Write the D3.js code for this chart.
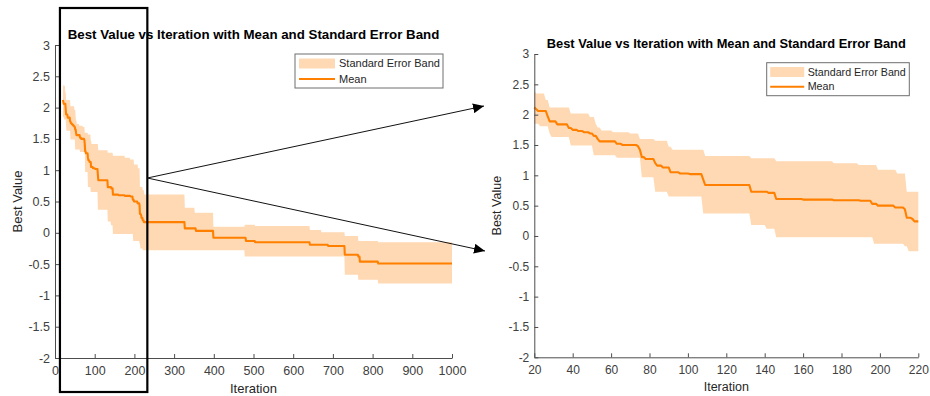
<!DOCTYPE html>
<html>
<head>
<meta charset="utf-8">
<script src="https://cdn.jsdelivr.net/npm/d3@7"></script>
<style>
  html, body { margin: 0; padding: 0; background: #fff; }
  svg { display: block; font-family: "Liberation Sans", Arial, Helvetica, sans-serif; }
</style>
</head>
<body>
<svg id="chart" width="930" height="396"></svg>
<script>
// Step change points of the running best value (iteration where each level starts)
const meanIter = [20, 21, 22, 27, 28, 32, 38, 40, 43, 46, 49, 51, 53, 54, 63, 66, 74, 75, 76, 78, 83, 84, 87, 91, 96, 101, 108, 109, 133, 142, 146, 160, 176, 190, 196, 199, 208, 213, 214, 217, 218, 221, 224, 327, 355, 399, 481, 504, 642, 688, 730, 764, 768, 814];
const meanVal  = [2.12, 2.09, 2.06, 1.97, 1.89, 1.84, 1.78, 1.75, 1.73, 1.71, 1.69, 1.65, 1.60, 1.56, 1.52, 1.50, 1.48, 1.42, 1.30, 1.27, 1.20, 1.16, 1.13, 1.05, 1.03, 1.02, 0.93, 0.84, 0.73, 0.71, 0.61, 0.60, 0.59, 0.58, 0.53, 0.50, 0.47, 0.44, 0.30, 0.28, 0.24, 0.20, 0.17, 0.07, 0.03, -0.08, -0.13, -0.15, -0.19, -0.21, -0.35, -0.38, -0.46, -0.49];

// Upper edge of the standard error band
const upperIter = [20, 21, 26, 28, 39, 49, 52, 53, 55, 61, 70, 75, 83, 90, 92, 109, 133, 146, 176, 189, 199, 209, 214, 221, 225, 327, 352, 399, 478, 504, 642, 671, 730, 764, 814];
const upperVal  = [2.39, 2.35, 2.24, 2.12, 2.02, 1.96, 1.85, 1.79, 1.74, 1.71, 1.69, 1.60, 1.57, 1.47, 1.42, 1.32, 1.28, 1.23, 1.20, 1.17, 1.09, 1.03, 0.73, 0.68, 0.61, 0.40, 0.32, 0.095, 0.13, 0.11, 0.045, 0.01, -0.05, -0.13, -0.15];

// Lower edge of the standard error band
const lowerIter = [20, 23, 28, 29, 39, 51, 63, 76, 83, 90, 108, 133, 141, 146, 197, 213, 215, 221, 478, 730, 764, 814];
const lowerVal  = [1.85, 1.81, 1.69, 1.63, 1.49, 1.33, 1.29, 0.97, 0.73, 0.65, 0.37, 0.18, 0.12, -0.02, -0.13, -0.17, -0.25, -0.28, -0.38, -0.67, -0.75, -0.81];

const iterFirst = 20, iterLast = 1000, zoomLast = 220;

// Axis tick values
const yTicks = [-2, -1.5, -1, -0.5, 0, 0.5, 1, 1.5, 2, 2.5, 3];
const xTicksFull = [0, 100, 200, 300, 400, 500, 600, 700, 800, 900, 1000];
const xTicksZoom = [20, 40, 60, 80, 100, 120, 140, 160, 180, 200, 220];

const titleText = "Best Value vs Iteration with Mean and Standard Error Band";
const legendLabels = ["Standard Error Band", "Mean"];

const bandColor = "#FFD9B3";
const lineColor = "#FF8000";

// Expand the step points into one row per iteration
function levelAt(iters, vals, it) {
  let v = vals[0];
  for (let i = 0; i < iters.length; i++) { if (iters[i] <= it) v = vals[i]; else break; }
  return v;
}
const table = d3.range(iterFirst, iterLast + 1).map(it => ({
  it,
  mean: levelAt(meanIter, meanVal, it),
  upper: levelAt(upperIter, upperVal, it),
  lower: levelAt(lowerIter, lowerVal, it)
}));

const svg = d3.select("#chart");

function panel(cfg) {
  const { x, y, rows, xTicks, font, titleY, legend, xLabelY, yLabelX } = cfg;
  const g = svg.append("g");

  g.append("path")
    .datum(rows)
    .attr("fill", bandColor)
    .attr("d", d3.area().x(d => x(d.it)).y0(d => y(d.lower)).y1(d => y(d.upper)));

  g.append("path")
    .datum(rows)
    .attr("fill", "none")
    .attr("stroke", lineColor)
    .attr("stroke-width", 2.1)
    .attr("stroke-linejoin", "round")
    .attr("d", d3.line().x(d => x(d.it)).y(d => y(d.mean)));

  const fmt = d => String(d);
  const xa = g.append("g")
    .attr("transform", `translate(0,${y.range()[0]})`)
    .call(d3.axisBottom(x).tickValues(xTicks).tickFormat(fmt).tickSizeInner(-4).tickSizeOuter(0).tickPadding(8));
  const ya = g.append("g")
    .attr("transform", `translate(${x.range()[0]},0)`)
    .call(d3.axisLeft(y).tickValues(yTicks).tickFormat(fmt).tickSizeInner(-4).tickSizeOuter(0).tickPadding(5));
  [xa, ya].forEach(a => {
    a.select(".domain").attr("stroke", "#4d4d4d");
    a.selectAll(".tick line").attr("stroke", "#4d4d4d");
    a.selectAll(".tick text").attr("fill", "#404040").style("font-size", font + "px").attr("font-family", null);
  });

  const cx = (x.range()[0] + x.range()[1]) / 2;
  const cy = (y.range()[0] + y.range()[1]) / 2;

  g.append("text")
    .attr("x", cx).attr("y", titleY)
    .attr("text-anchor", "middle")
    .style("font-weight", "bold").style("font-size", cfg.titleFont + "px")
    .attr("fill", "#000")
    .text(titleText);

  g.append("text")
    .attr("x", cx).attr("y", xLabelY)
    .attr("text-anchor", "middle")
    .style("font-size", cfg.labelFont + "px").attr("fill", "#262626")
    .text("Iteration");

  g.append("text")
    .attr("transform", `translate(${yLabelX},${cy}) rotate(-90)`)
    .attr("text-anchor", "middle").attr("dy", "0.35em")
    .style("font-size", cfg.labelFont + "px").attr("fill", "#262626")
    .text("Best Value");

  // Legend
  const L = legend;
  const lg = g.append("g").attr("transform", `translate(${L.x},${L.y})`);
  lg.append("rect").attr("width", L.w).attr("height", L.h)
    .attr("fill", "#fff").attr("stroke", "#6e6e6e").attr("stroke-width", 1);
  lg.append("rect").attr("x", L.sx).attr("y", L.bandY - L.bandH / 2)
    .attr("width", L.sw).attr("height", L.bandH).attr("fill", bandColor);
  lg.append("line").attr("x1", L.sx).attr("x2", L.sx + L.sw)
    .attr("y1", L.lineY).attr("y2", L.lineY)
    .attr("stroke", lineColor).attr("stroke-width", 2);
  lg.selectAll("text.lbl").data(legendLabels).join("text")
    .attr("class", "lbl")
    .attr("x", L.tx)
    .attr("y", (d, i) => i === 0 ? L.bandY : L.lineY)
    .attr("dy", "0.35em")
    .style("font-size", L.font + "px").attr("fill", "#262626")
    .text(d => d);
}

// Full run, iterations 0–1000
const xFull = d3.scaleLinear().domain([0, 1000]).range([55, 452]);
const yFull = d3.scaleLinear().domain([-2, 3]).range([358, 45]);
panel({
  x: xFull, y: yFull, rows: table, xTicks: xTicksFull,
  font: 12.5, titleFont: 13.3, labelFont: 13,
  titleY: 38.5, xLabelY: 393, yLabelX: 17,
  legend: { x: 295, y: 54, w: 148, h: 34, sx: 4, sw: 36, bandY: 63.5 - 54, bandH: 10, lineY: 79 - 54, tx: 44, font: 11 }
});

// Close-up of the first 200 iterations
const xZoom = d3.scaleLinear().domain([20, 220]).range([534.3, 918.3]);
const yZoom = d3.scaleLinear().domain([-2, 3]).range([357.3, 54]);
panel({
  x: xZoom, y: yZoom, rows: table.filter(d => d.it <= zoomLast), xTicks: xTicksZoom,
  font: 12, titleFont: 12.85, labelFont: 12.5,
  titleY: 47.5, xLabelY: 391, yLabelX: 497,
  legend: { x: 766.7, y: 62.7, w: 142.6, h: 33, sx: 3.5, sw: 34, bandY: 72 - 62.7, bandH: 10, lineY: 86.7 - 62.7, tx: 41, font: 10.7 }
});

// Selection box around the zoomed range and the connecting arrows
const boxL = xFull(iterFirst) - 3, boxR = xFull(zoomLast) + 5;
svg.append("rect")
  .attr("x", boxL).attr("y", 8)
  .attr("width", boxR - boxL).attr("height", 384)
  .attr("fill", "none").attr("stroke", "#000").attr("stroke-width", 2.2);

const defs = svg.append("defs");
defs.append("marker")
  .attr("id", "head")
  .attr("markerUnits", "userSpaceOnUse")
  .attr("markerWidth", 12).attr("markerHeight", 10)
  .attr("refX", 11).attr("refY", 5)
  .attr("orient", "auto")
  .append("path").attr("d", "M0,0 L11,5 L0,10 Z").attr("fill", "#000");

const origin = [boxR, 178];
[[484, 106], [485, 251]].forEach(t => {
  svg.append("line")
    .attr("x1", origin[0]).attr("y1", origin[1])
    .attr("x2", t[0]).attr("y2", t[1])
    .attr("stroke", "#111").attr("stroke-width", 1)
    .attr("marker-end", "url(#head)");
});
</script>
</body>
</html>
